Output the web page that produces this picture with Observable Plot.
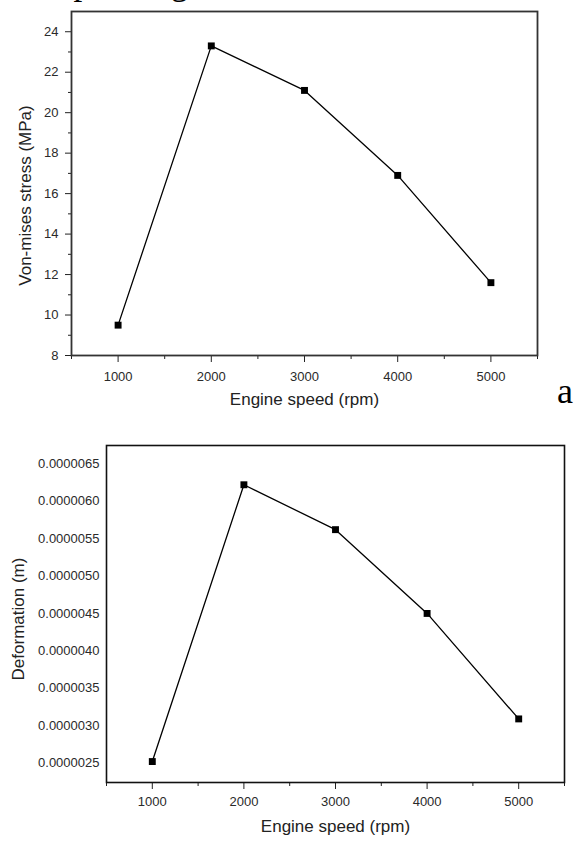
<!DOCTYPE html>
<html><head><meta charset="utf-8">
<script src="https://cdn.jsdelivr.net/npm/d3@7"></script>
<script src="https://cdn.jsdelivr.net/npm/@observablehq/plot@0.6"></script>
<style>
html,body{margin:0;padding:0;background:#fff;}
#page{position:relative;width:578px;height:843px;overflow:hidden;background:#fff;}
#page svg{position:absolute;left:0;}
#page g[aria-label="x-axis tick label"], #page g[aria-label="y-axis tick label"],
#page g[aria-label="x-axis tick label"] text, #page g[aria-label="y-axis tick label"] text{font-size:13px !important;fill:#2a2a2a;}
</style></head><body><div id="page"></div>
<script>
// ---- data ----
const speed = [1000, 2000, 3000, 4000, 5000];
const stress = [9.5, 23.3, 21.1, 16.9, 11.6];
const deformation = [0.00000252, 0.00000622, 0.00000562, 0.00000450, 0.00000309];
const speedTicks = [1000, 2000, 3000, 4000, 5000];
const speedMinorTicks = [500, 1500, 2500, 3500, 4500, 5500];
const stressTicks = [8, 10, 12, 14, 16, 18, 20, 22, 24];
const stressMinorTicks = [9, 11, 13, 15, 17, 19, 21, 23];
const deformTicks = [0.0000025, 0.0000030, 0.0000035, 0.0000040, 0.0000045, 0.0000050, 0.0000055, 0.0000060, 0.0000065];
const xLabel = "Engine speed (rpm)";
const stressLabel = "Von-mises stress (MPa)";
const deformLabel = "Deformation (m)";

const stressData = speed.map((s, i) => ({speed: s, value: stress[i]}));
const deformData = speed.map((s, i) => ({speed: s, value: deformation[i]}));

const sans = "'Liberation Sans', Arial, Helvetica, sans-serif";
const page = document.getElementById("page");

const chartA = Plot.plot({
  width: 578, height: 410,
  marginLeft: 71, marginRight: 41, marginTop: 11, marginBottom: 55,
  style: {fontFamily: sans, fontSize: "13px", color: "#222", background: "transparent"},
  x: {domain: [500, 5500]},
  y: {domain: [8, 25]},
  marks: [
    Plot.axisX({ticks: speedTicks, tickSize: 7, tickPadding: 9, tickFormat: d => String(d), label: null, fontSize: 13}),
    Plot.axisX({ticks: speedMinorTicks, tickSize: 4, text: null, label: null}),
    Plot.axisY({ticks: stressTicks, tickSize: 6, tickPadding: 7, tickFormat: d => String(d), label: null, fontSize: 13}),
    Plot.axisY({ticks: stressMinorTicks, tickSize: 3, text: null, label: null}),
    Plot.frame({stroke: "#333", strokeWidth: 1.8}),
    Plot.line(stressData, {x: "speed", y: "value", stroke: "#000", strokeWidth: 1.3}),
    Plot.dot(stressData, {x: "speed", y: "value", symbol: "square", r: 3.9, fill: "#000", stroke: "none"}),
    Plot.text([xLabel], {frameAnchor: "bottom", dy: 49, fontSize: 17, fill: "#222"}),
    Plot.text([stressLabel], {frameAnchor: "left", textAnchor: "middle", rotate: -90, dx: -46, dy: 12, fontSize: 17, fill: "#222"})
  ]
});
chartA.style.top = "0px";
page.appendChild(chartA);

const chartB = Plot.plot({
  width: 578, height: 433,
  marginLeft: 106, marginRight: 14, marginTop: 35, marginBottom: 61,
  style: {fontFamily: sans, fontSize: "13px", color: "#222", background: "transparent"},
  x: {domain: [500, 5500]},
  y: {domain: [0.00000224, 0.000006745]},
  marks: [
    Plot.axisX({ticks: speedTicks, tickSize: 7, tickPadding: 7, tickFormat: d => String(d), label: null, fontSize: 13}),
    Plot.axisX({ticks: speedMinorTicks, tickSize: 4, text: null, label: null}),
    Plot.axisY({ticks: deformTicks, tickSize: 0, tickPadding: 7, tickFormat: d => d.toFixed(7), label: null, fontSize: 13}),
    Plot.frame({stroke: "#111", strokeWidth: 1.6}),
    Plot.line(deformData, {x: "speed", y: "value", stroke: "#000", strokeWidth: 1.3}),
    Plot.dot(deformData, {x: "speed", y: "value", symbol: "square", r: 3.9, fill: "#000", stroke: "none"}),
    Plot.text([xLabel], {frameAnchor: "bottom", dy: 49, fontSize: 17, fill: "#222"}),
    Plot.text([deformLabel], {frameAnchor: "left", textAnchor: "middle", rotate: -90, dx: -88, dy: 5, fontSize: 17, fill: "#222"})
  ]
});
chartB.style.top = "410px";
page.appendChild(chartB);

// page fragments around the figure (cropped document text and panel letter)
const ns = "http://www.w3.org/2000/svg";
const deco = document.createElementNS(ns, "svg");
deco.setAttribute("width", 578);
deco.setAttribute("height", 843);
deco.style.top = "0px";
deco.style.pointerEvents = "none";
const t1 = document.createElementNS(ns, "text");
t1.setAttribute("x", -12); t1.setAttribute("y", -6);
t1.setAttribute("font-family", "'Liberation Serif', 'Times New Roman', serif");
t1.setAttribute("font-size", 35);
t1.textContent = "corresponding";
deco.appendChild(t1);
const t2 = document.createElementNS(ns, "text");
t2.setAttribute("x", 557); t2.setAttribute("y", 403);
t2.setAttribute("font-family", "'Liberation Serif', 'Times New Roman', serif");
t2.setAttribute("font-size", 36);
t2.textContent = "a";
deco.appendChild(t2);
page.appendChild(deco);
</script></body></html>
